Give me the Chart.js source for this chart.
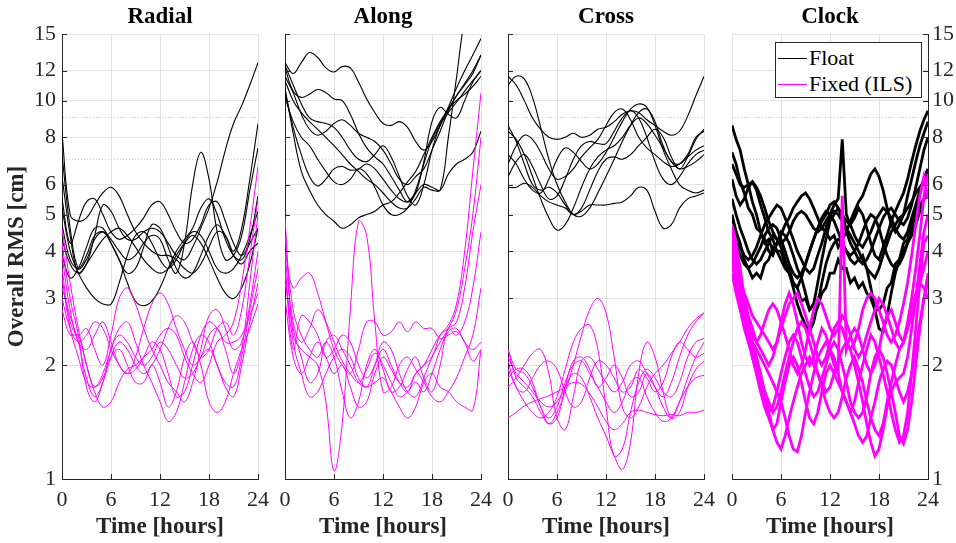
<!DOCTYPE html>
<html>
<head>
<meta charset="utf-8">
<script src="https://cdn.jsdelivr.net/npm/chart.js@4.4.1/dist/chart.umd.min.js"></script>
<style>
  html, body { margin: 0; padding: 0; background: #fff; }
  #wrap { position: relative; width: 956px; height: 543px; overflow: hidden; font-family: 'Liberation Serif', 'Times New Roman', serif; color: #262626; }
  canvas { position: absolute; top: 0; }
  .ptitle { position: absolute; top: 3px; width: 196px; text-align: center; font-weight: bold; font-size: 23px; line-height: 26px; color: #000; }
  #legend { position: absolute; left: 775px; top: 42px; width: 145px; height: 54px; border: 1px solid #262626; background: #fff; z-index: 5; }
  .lg-row { position: absolute; left: 2px; height: 26px; line-height: 26px; font-size: 22px; display: flex; align-items: center; color: #000; }
  .lg-line { display: inline-block; width: 29px; height: 1px; margin-right: 2px; }
</style>
</head>
<body>
<div id="wrap">
  <canvas id="c0" width="308" height="543" style="left:0px"></canvas>
  <canvas id="c1" width="296" height="543" style="left:235px"></canvas>
  <canvas id="c2" width="296" height="543" style="left:458px"></canvas>
  <canvas id="c3" width="274" height="543" style="left:682px"></canvas>
  <div class="ptitle" style="left:62px">Radial</div>
  <div class="ptitle" style="left:285px">Along</div>
  <div class="ptitle" style="left:508px">Cross</div>
  <div class="ptitle" style="left:732px">Clock</div>
  <div id="legend">
    <div class="lg-row" style="top:2px"><span class="lg-line" style="background:#000"></span><span>Float</span></div>
    <div class="lg-row" style="top:28px"><span class="lg-line" style="background:#ff00ff"></span><span>Fixed (ILS)</span></div>
  </div>
</div>
<script>
// --- axis values ---
const hours = [0,1,2,3,4,5,6,7,8,9,10,11,12,13,14,15,16,17,18,19,20,21,22,23,24];
const halfHours = [0,0.5,1,1.5,2,2.5,3,3.5,4,4.5,5,5.5,6,6.5,7,7.5,8,8.5,9,9.5,10,10.5,11,11.5,12,
  12.5,13,13.5,14,14.5,15,15.5,16,16.5,17,17.5,18,18.5,19,19.5,20,20.5,21,21.5,22,22.5,23,23.5,24];
const xTicks = [0, 6, 12, 18, 24];
const yLabels = [1, 2, 3, 4, 5, 6, 8, 10, 12, 15];
const yMinor = [7, 9];
const yGrid = [1, 2, 3, 4, 5, 6, 7, 8, 9, 10, 12, 15];

// --- Radial ---
const radialFloat = [
  [8.2,5.0,4.8,4.9,5.3, 5.7,5.9,5.6,5.0,4.5, 4.2,4.0,3.9,3.9,3.8, 3.6,3.5,3.7,4.1,4.5, 4.4,4.0,4.6,6.2,8.7],
  [7.2,4.6,3.6,3.8,4.3, 4.5,4.3,4.0,3.8,3.9, 4.2,4.4,4.3,3.8,3.5, 4.2,6.0,7.3,6.2,4.5, 3.8,3.9,4.4,5.8,7.5],
  [6.3,4.4,3.5,3.7,4.4, 5.3,5.1,4.6,4.3,4.3, 4.5,4.6,4.5,4.2,3.9, 3.8,4.1,4.6,5.2,6.1, 7.4,8.7,9.7,11.0,12.6],
  [5.5,4.2,4.8,5.4,5.5, 5.0,4.5,4.3,4.4,4.6, 4.9,5.3,5.4,5.0,4.5, 4.2,4.3,4.7,5.3,5.4, 4.8,4.2,3.9,4.3,5.6],
  [5.2,4.0,3.5,3.2,3.0, 2.9,2.9,3.3,3.9,4.4, 4.5,4.2,3.8,3.6,3.8, 4.2,4.5,4.4,4.0,3.6, 3.5,3.6,3.9,4.4,5.1],
  [4.7,3.8,3.6,3.9,4.4, 4.5,4.2,3.8,3.3,2.95, 2.87,2.95,3.2,3.6,4.0, 4.3,4.6,5.2,5.5,5.0, 4.3,3.9,3.8,4.2,4.6],
  [4.3,3.7,3.5,3.7,4.0, 4.3,4.5,4.6,4.4,4.1, 3.8,3.6,3.5,3.6,3.9, 4.2,4.4,4.2,3.8,3.4, 3.1,3.0,3.2,3.7,4.6],
  [3.9,3.4,3.6,4.1,4.6, 4.6,4.2,3.8,3.5,3.6, 4.1,4.7,4.6,4.1,3.6, 3.4,3.5,3.9,4.4,4.7, 4.4,3.9,3.7,4.0,4.2]
];
const radialFixed = [
  [4.6,3.3,2.5,2.0,1.7, 1.55,1.6,1.8,1.95,2.0, 2.1,2.2,2.4,2.5,2.4, 2.1,1.9,1.8,2.0,2.3, 2.4,2.6,3.3,4.6,6.7],
  [4.2,3.0,2.4,1.75,1.6, 1.8,2.1,2.3,2.2,2.0, 1.9,2.0,2.2,2.5,2.7, 2.6,2.3,2.1,2.2,2.5, 2.6,2.4,2.8,3.9,5.5],
  [3.9,2.8,2.3,2.2,2.4, 2.6,2.3,2.0,1.9,2.1, 2.5,2.9,3.1,2.9,2.5, 2.2,2.0,2.1,2.4,2.5, 2.2,1.9,2.2,3.3,5.0],
  [3.6,2.6,2.4,2.5,2.2, 2.0,2.4,3.0,3.2,2.9, 2.5,2.2,2.0,1.8,1.7, 1.6,1.8,2.2,2.7,2.8, 2.5,2.2,2.3,2.9,4.0],
  [3.4,2.5,2.1,1.8,1.75, 1.9,2.2,2.5,2.6,2.3, 2.0,1.8,1.6,1.42,1.5, 1.8,2.2,2.4,2.3,2.0, 1.8,1.75,2.1,2.8,3.6],
  [3.0,2.5,2.3,2.4,2.6, 2.5,2.2,2.0,1.9,1.95, 2.1,2.3,2.2,1.9,1.65, 1.7,2.0,2.4,2.6,2.5, 2.3,2.3,2.4,2.7,3.1],
  [2.8,2.4,2.4,2.0,1.75, 1.85,2.1,2.2,2.0,1.8, 1.8,2.0,1.8,1.55,1.7, 2.1,2.3,2.0,1.6,1.5, 1.6,1.9,2.2,2.5,2.9],
  [3.2,2.7,2.3,1.85,1.65, 1.8,2.2,2.4,2.3,2.1, 2.0,2.1,2.3,2.2,2.0, 1.85,1.9,2.1,2.2,2.0, 1.75,1.65,2.0,2.6,3.3]
];

// --- Along ---
const alongFloat = [
  [12.6,11.8,12.6,13.4,13.0, 12.2,11.9,12.3,12.2,11.2, 10.1,9.3,8.7,8.6,8.8, 8.5,7.8,7.4,7.8,8.6, 9.6,10.8,12.0,13.2,14.6],
  [12.2,10.6,10.2,10.4,10.7, 10.5,10.1,10.0,9.2,8.2, 7.5,7.1,6.8,6.3,5.8, 5.4,5.7,6.9,8.8,9.6, 9.2,9.0,10.0,11.2,12.0],
  [11.3,10.0,9.3,8.8,8.4, 8.0,7.6,7.2,6.8,6.5, 6.2,6.0,5.7,5.4,5.2, 5.2,5.5,5.9,5.8,5.8, 8.0,11.5,16.5,20,24],
  [10.8,8.2,6.5,5.8,5.3, 5.0,4.8,4.6,4.7,4.9, 5.0,5.1,5.3,5.4,5.7, 6.1,6.5,7.2,8.0,8.8, 9.5,10.3,11.0,11.8,13.2],
  [10.6,8.5,7.2,6.3,5.95, 6.2,6.6,6.7,6.55,6.6, 6.8,6.6,6.2,5.8,5.5, 5.4,5.7,6.0,5.9,5.8, 6.4,6.8,7.0,7.3,8.3],
  [12.4,11.0,9.8,9.0,8.8, 8.7,8.5,8.0,7.4,7.0, 6.9,7.2,7.6,7.1,6.3, 5.6,5.3,6.0,7.4,8.6, 9.3,9.9,10.6,11.3,12.0],
  [11.6,10.5,9.2,8.4,8.1, 8.3,8.7,8.9,8.6,8.2, 8.0,7.8,7.4,6.8,6.2, 6.0,6.3,6.6,7.4,8.3, 9.4,10.3,11.1,12.0,13.2],
  [10.2,8.8,8.0,7.6,7.0, 6.5,6.1,6.0,6.2,6.6, 6.4,5.9,5.3,5.0,5.0, 5.2,5.8,6.8,7.9,8.7, 9.5,10.0,10.4,10.9,11.6]
];
const alongFixed = [
  [4.9,2.4,2.2,2.1,2.0, 1.6,1.05,1.4,2.8,4.8, 4.4,2.6,1.7,1.75,2.0, 2.1,1.95,1.8,1.65,1.6, 1.7,1.85,2.1,2.4,3.2],
  [4.0,3.2,3.4,3.5,3.1, 2.6,2.2,2.0,1.9,2.2, 2.6,2.6,2.4,2.45,2.6, 2.45,2.6,2.5,2.5,2.35, 2.4,2.45,2.3,2.05,2.2],
  [3.7,2.2,2.7,2.6,2.4, 2.1,2.2,2.4,2.3,2.0, 1.85,2.0,2.2,2.0,1.8, 1.7,1.9,2.0,2.2,2.4, 2.5,2.6,3.2,4.5,6.0],
  [3.3,2.5,2.1,1.8,1.9, 2.3,2.4,2.2,2.0,1.8, 1.75,1.8,1.85,1.7,1.55, 1.45,1.55,1.8,1.9,1.75, 1.7,1.6,1.55,1.52,2.2],
  [3.5,2.3,1.9,1.65,1.7, 1.9,2.1,2.2,2.1,1.85, 1.75,2.0,2.3,2.2,1.9, 1.7,1.65,1.85,2.1,2.3, 2.5,2.8,3.6,5.0,8.0],
  [3.0,2.1,1.9,2.1,2.3, 2.1,1.9,2.0,1.75,1.55, 1.6,1.9,2.1,1.95,1.8, 1.75,1.9,2.0,2.1,2.4, 2.55,2.9,4.0,6.5,10.5],
  [4.4,2.8,2.4,2.2,2.1, 2.3,2.1,1.7,1.45,1.6, 2.0,2.2,1.95,1.7,1.75, 1.95,2.1,1.85,1.7,2.0, 2.5,2.4,2.6,3.2,4.5],
  [3.9,2.6,2.3,2.5,2.8, 2.6,2.3,2.05,1.9,1.8, 1.95,2.15,2.0,1.8,1.65, 1.7,1.8,1.7,1.9,2.2, 2.45,2.5,2.3,2.2,2.3]
];

// --- Cross ---
const crossFloat = [
  [11.6,11.0,10.0,9.0,8.4, 8.0,7.9,8.0,8.2,8.0, 8.1,8.4,8.5,8.8,9.2, 9.4,9.3,8.9,8.6,8.3, 8.1,8.3,9.1,10.3,11.6],
  [11.0,11.6,11.4,10.2,8.5, 7.0,6.0,5.4,5.0,4.95, 5.2,5.7,6.3,7.0,7.8, 8.6,9.3,9.5,8.8,7.6, 6.9,6.8,7.1,7.4,7.6],
  [8.3,7.9,7.2,6.3,5.5, 4.9,4.55,4.7,5.2,5.9, 6.6,7.1,7.4,7.6,8.0, 8.6,9.0,8.7,8.1,7.5, 6.9,6.6,6.7,6.9,7.2],
  [5.9,5.9,6.05,5.9,5.6, 5.4,5.3,5.2,5.0,5.1, 5.3,5.3,5.3,5.35,5.4, 5.6,5.9,5.8,5.1,4.6, 4.7,5.2,5.5,5.6,5.7],
  [6.8,7.6,8.1,7.9,7.3, 6.6,6.2,6.3,6.6,7.1, 7.5,7.9,8.6,9.3,9.5, 8.9,8.0,7.5,7.2,6.9, 6.7,6.8,7.2,8.0,8.3],
  [6.3,6.9,7.2,6.7,6.0, 5.5,5.6,6.2,7.0,7.6, 7.8,7.7,7.7,8.3,9.0, 9.4,9.0,8.0,6.9,6.2, 6.0,6.3,6.8,7.2,7.4],
  [7.2,6.8,6.2,5.8,5.7, 6.2,7.0,7.5,7.3,6.9, 6.6,6.8,7.3,8.0,8.8, 9.5,9.8,9.6,8.6,7.4, 6.6,6.0,5.8,5.7,5.8],
  [8.6,7.8,6.8,6.0,5.8, 5.9,5.7,5.3,5.0,5.2, 5.8,6.5,7.0,7.1,7.0, 7.2,7.6,8.0,8.4,8.0, 7.1,6.6,7.1,7.9,8.4]
];
const crossFixed = [
  [2.2,1.85,1.75,1.65,1.5, 1.4,1.5,1.7,2.0,2.4, 2.8,3.0,2.75,2.1,1.55, 1.45,1.55,1.75,1.9,2.0, 2.15,2.3,2.5,2.65,2.75],
  [1.45,1.5,1.56,1.6,1.63, 1.66,1.7,1.75,1.8,1.78, 1.68,1.55,1.42,1.35,1.4, 1.5,1.52,1.5,1.48,1.47, 1.48,1.47,1.5,1.5,1.52],
  [1.95,1.75,1.6,1.5,1.45, 1.5,1.65,1.95,2.3,2.5, 2.55,2.2,1.55,1.15,1.2, 1.5,1.8,1.95,1.85,1.7, 1.65,1.8,2.1,2.3,2.35],
  [2.1,1.9,1.8,1.7,1.6, 1.55,1.6,1.75,1.9,1.85, 1.65,1.45,1.3,1.15,1.06, 1.25,1.9,2.3,2.1,1.7, 1.45,1.5,1.75,1.95,2.05],
  [1.75,1.85,2.0,2.15,2.2, 1.9,1.45,1.35,1.65,2.05, 2.1,1.95,1.8,1.7,1.8, 2.0,2.05,1.9,1.75,1.65, 1.8,2.1,2.4,2.6,2.75],
  [2.2,1.95,1.9,1.75,1.55, 1.4,1.45,1.75,2.05,2.1, 1.95,1.75,1.85,2.0,1.85, 1.65,1.7,1.9,1.75,1.55, 1.45,1.6,1.85,2.1,2.3],
  [1.85,1.95,1.95,1.8,1.55, 1.45,1.55,1.8,2.0,2.05, 1.9,1.75,1.6,1.5,1.6, 1.8,1.85,1.65,1.5,1.42, 1.45,1.6,1.75,1.85,1.88],
  [2.05,1.75,1.7,1.85,2.0, 2.05,1.95,1.7,1.55,1.6, 1.85,2.05,2.0,1.85,1.7, 1.75,1.95,1.85,1.7,1.8, 2.1,2.3,2.2,2.1,2.15]
];

// --- Clock (half-hourly) ---
const clockFloat = [
  [8.6,7.9,7.4,6.6,6.0, 5.4,5.0,4.5,4.3,4.0, 3.9,4.2,4.5,4.4,4.2, 3.9,3.6,3.4,3.1,2.8, 2.9,3.3,3.8,4.3,4.8, 5.0,5.2,5.0,4.8,4.7, 4.9,5.2,5.0,4.6,4.2, 3.9,3.8,4.1,4.4,4.8, 5.1,5.4,5.7,6.2,6.9, 7.6,8.3,8.9,9.4],
  [7.3,6.8,6.1,5.7,5.2, 5.0,4.6,4.5,4.2,4.3, 4.0,4.2,4.4,4.7,4.9, 5.2,5.4,5.6,5.7,5.5, 5.2,4.9,4.6,4.5,4.3, 4.4,4.1,4.3,4.5,4.8, 5.1,5.4,5.6,6.0,6.4, 6.6,6.3,5.8,5.2,4.7, 4.5,4.7,5.0,5.6,6.2, 6.9,7.6,8.2,8.8],
  [6.2,5.6,5.3,5.5,5.9, 6.1,5.8,5.3,4.9,4.5, 4.3,4.0,3.8,3.6,3.5, 3.3,3.2,3.4,3.7,4.0, 4.3,4.6,4.8,5.0,5.3, 5.4,5.2,4.9,4.6,4.4, 4.2,4.0,3.8,3.6,3.5, 3.4,3.6,3.9,4.2,4.5, 4.7,4.9,5.0,5.2,5.4, 5.7,5.9,6.1,6.3],
  [5.5,5.0,4.6,4.3,4.0, 3.8,3.7,3.8,4.0,4.2, 4.4,4.3,4.1,3.8,3.5, 3.2,2.9,2.7,2.55,2.45, 2.6,2.9,3.3,3.7,4.0, 4.2,4.3,4.2,4.0,3.8, 3.7,3.8,3.9,3.6,3.2, 2.8,2.5,2.45,2.7,3.1, 3.5,3.8,4.0,4.2,4.4, 4.7,5.1,5.5,5.8],
  [4.9,4.5,4.1,3.9,3.8, 3.9,4.1,4.4,4.7,4.9, 5.1,5.3,5.2,4.9,4.6, 4.3,4.0,3.8,3.6,3.5, 3.6,3.9,4.2,4.6,5.0, 5.3,5.5,7.9,5.0,4.7, 4.4,4.2,4.1,4.3,4.5, 4.8,5.0,5.2,5.1,4.9, 4.6,4.4,4.3,4.5,4.9, 5.3,5.8,6.2,6.6],
  [4.5,4.2,3.9,3.7,3.6, 3.7,3.9,4.1,4.4,4.6, 4.7,4.6,4.3,4.0,3.7, 3.5,3.4,3.5,3.7,4.0, 4.3,4.6,4.9,5.1,5.0, 4.8,4.5,4.2,4.0,3.9, 4.0,4.2,4.5,4.8,5.0, 4.9,4.6,4.2,3.9,3.7, 3.6,3.7,3.9,4.2,4.6, 5.0,5.3,5.5,5.6],
  [6.8,6.4,6.0,5.9,6.0, 6.1,5.9,5.6,5.2,4.8, 4.5,4.3,4.2,4.3,4.5, 4.8,5.0,5.1,5.0,4.8, 4.6,4.5,4.6,4.8,5.0, 5.1,5.0,4.8,4.5,4.2, 4.0,3.8,3.7,3.8,4.0, 4.3,4.6,4.9,5.1,5.2, 5.0,4.8,4.7,4.9,5.3, 5.9,6.6,7.4,8.0],
  [5.0,4.5,4.2,3.8,3.6, 3.4,3.5,3.4,3.7,3.8, 4.1,4.0,4.0,3.7,3.6, 3.3,3.2,2.95,3.0,2.8, 2.9,2.85,3.1,3.2,3.5, 3.5,3.8,3.6,3.6,3.3, 3.4,3.2,3.3,3.1,3.0, 2.8,2.8,2.9,3.2,3.3, 3.7,3.8,4.2,4.3,4.8, 5.1,5.7,6.2,6.6]
];
const clockFixed = [
  [4.7,4.2,3.6,3.0,2.6, 2.3,2.1,1.9,1.7,1.5, 1.35,1.25,1.2,1.3,1.45, 1.6,1.75,1.9,2.0,2.1, 2.0,1.9,1.8,1.7,1.75, 1.9,2.05,2.2,2.3,2.2, 2.0,1.8,1.6,1.4,1.25, 1.15,1.2,1.35,1.55,1.7, 1.8,1.85,1.9,2.1,2.5, 3.0,3.7,4.5,5.0],
  [4.3,3.8,3.3,2.8,2.5, 2.3,2.2,2.1,2.0,1.9, 1.8,1.7,1.6,1.45,1.3, 1.2,1.18,1.3,1.5,1.7, 1.9,2.1,2.2,2.3,2.2, 2.1,1.9,1.7,1.6,1.5, 1.6,1.8,2.0,2.2,2.4, 2.3,2.1,1.9,1.7,1.5, 1.35,1.25,1.3,1.5,1.9, 2.5,3.3,4.2,4.4],
  [4.0,3.7,3.4,3.1,2.9, 2.7,2.6,2.5,2.4,2.3, 2.2,2.3,2.5,2.7,2.9, 3.0,3.1,2.9,2.7,2.5, 2.3,2.1,2.0,2.1,2.3, 2.5,2.6,2.5,2.3,2.2, 2.3,2.5,2.8,3.0,3.1, 3.0,2.8,2.6,2.4,2.3, 2.4,2.6,2.9,3.3,3.9, 4.7,5.6,6.3,5.5],
  [3.7,3.3,2.9,2.6,2.4, 2.2,2.0,1.85,1.7,1.6, 1.5,1.55,1.7,1.9,2.1, 2.3,2.5,2.6,2.5,2.3, 2.1,1.9,1.75,1.6,1.5, 1.45,1.5,1.65,1.85,2.0, 2.1,1.95,1.8,1.6,1.45, 1.35,1.3,1.4,1.6,1.8, 2.0,2.2,2.3,2.5,2.7, 3.0,3.3,3.6,4.0],
  [3.5,3.1,2.8,2.5,2.3, 2.1,1.9,1.75,1.6,1.5, 1.55,1.7,1.9,2.1,2.3, 2.4,2.3,2.1,1.9,1.75, 1.65,1.7,1.85,2.0,2.2, 2.3,2.2,2.0,1.8,1.6, 1.5,1.45,1.5,1.65,1.9, 2.1,2.2,2.1,1.9,1.7, 1.5,1.3,1.24,1.35,1.6, 2.0,2.5,3.0,3.5],
  [4.2,3.6,3.0,2.7,2.5, 2.4,2.3,2.2,2.1,2.0, 2.1,2.3,2.6,2.9,3.1, 2.9,2.6,2.3,2.1,2.0, 2.1,2.3,2.5,2.4,2.2, 2.0,1.9,5.6,2.2,2.4, 2.5,2.4,2.2,2.0,1.9, 2.0,2.2,2.5,2.7,2.8, 2.6,2.4,2.3,2.5,2.8, 3.1,3.3,3.2,3.0],
  [3.9,3.4,3.0,2.7,2.4, 2.1,1.9,1.7,1.55,1.45, 1.35,1.4,1.6,1.8,2.0, 2.1,2.0,1.8,1.6,1.45, 1.4,1.5,1.7,1.9,2.0, 1.9,1.8,1.7,1.6,1.5, 1.4,1.3,1.25,1.3,1.45, 1.6,1.8,1.95,2.05,2.0, 1.85,1.7,1.6,1.7,1.9, 2.2,2.6,3.0,3.3],
  [4.5,4.0,3.4,3.0,2.7, 2.5,2.3,2.4,2.6,2.8, 2.9,2.8,2.6,2.4,2.2, 2.0,1.9,2.0,2.2,2.5, 2.8,3.0,2.9,2.7,2.5, 2.4,2.5,2.7,2.6,2.4, 2.2,2.1,2.2,2.4,2.6, 2.8,3.0,2.9,2.7,2.5, 2.3,2.2,2.3,2.6,3.0, 3.6,4.4,5.6,6.4]
];

const FLOAT_COLOR = '#000000';
const FIXED_COLOR = '#ff00ff';
const AXIS_COLOR = '#262626';

Chart.defaults.font.family = "'Liberation Serif', 'Times New Roman', serif";
Chart.defaults.color = AXIS_COLOR;

// MATLAB style: short tick marks pointing into the axes
const inwardTicks = {
  id: 'inwardTicks',
  afterDraw(chart) {
    const { ctx, chartArea: a, scales } = chart;
    const right = scales.y.position === 'right';
    const ax = right ? a.right : a.left;
    ctx.save();
    ctx.strokeStyle = AXIS_COLOR;
    ctx.lineWidth = 1;
    ctx.beginPath();
    scales.x.ticks.forEach(t => {
      const px = Math.round(scales.x.getPixelForValue(t.value)) + 0.5;
      ctx.moveTo(px, a.bottom);
      ctx.lineTo(px, a.bottom - 5);
    });
    scales.y.ticks.forEach(t => {
      if (!yLabels.includes(t.value)) return;
      const py = Math.round(scales.y.getPixelForValue(t.value)) + 0.5;
      ctx.moveTo(ax, py);
      ctx.lineTo(right ? ax - 5 : ax + 5, py);
    });
    ctx.stroke();
    ctx.restore();
  }
};

function lineSets(rows, xs, color, width, tension, order) {
  return rows.map(r => ({
    data: r.map((v, i) => ({ x: xs[i], y: v })),
    borderColor: color,
    borderWidth: width,
    pointRadius: 0,
    fill: false,
    tension: tension,
    order: order
  }));
}

const isMinor = c => !!(c.tick && yMinor.includes(c.tick.value));

function makePanel(canvasId, cfg) {
  const datasets = [
    ...lineSets(cfg.fixed, cfg.xs, FIXED_COLOR, cfg.fixedWidth, cfg.tension, 0),
    ...lineSets(cfg.float, cfg.xs, FLOAT_COLOR, cfg.floatWidth, cfg.tension, 1)
  ];
  return new Chart(document.getElementById(canvasId), {
    type: 'line',
    data: { datasets },
    options: {
      responsive: false,
      animation: false,
      devicePixelRatio: 1,
      layout: { padding: { top: 34, bottom: 0, left: cfg.padL, right: cfg.padR } },
      plugins: { legend: { display: false }, tooltip: { enabled: false } },
      scales: {
        x: {
          type: 'linear', min: 0, max: 24,
          afterBuildTicks: s => { s.ticks = xTicks.map(v => ({ value: v })); },
          afterFit: s => { s.height = 64; },
          ticks: { font: { size: 22 }, padding: 8, maxRotation: 0, autoSkip: false },
          grid: { color: '#e3e3e3', drawTicks: false },
          border: { color: AXIS_COLOR },
          title: { display: true, text: 'Time [hours]', font: { size: 23, weight: 'bold' }, padding: { top: 0, bottom: 2 } }
        },
        y: {
          type: 'logarithmic', position: cfg.yPos, min: 1, max: 15,
          afterBuildTicks: s => { s.ticks = yGrid.map(v => ({ value: v })); },
          afterFit: s => { s.width = cfg.yWidth; },
          ticks: {
            display: cfg.showY, font: { size: 22 }, autoSkip: false,
            padding: cfg.yPos === 'right' ? 4 : 6,
            callback: v => yLabels.includes(v) ? String(v) : ''
          },
          grid: { drawTicks: false, color: c => isMinor(c) ? '#cdcdcd' : '#e3e3e3' },
          border: { color: AXIS_COLOR, dash: c => isMinor(c) ? [1, 2] : [] },
          title: { display: !!cfg.yTitle, text: cfg.yTitle || '', font: { size: 23, weight: 'bold' }, padding: { top: 3 } }
        }
      }
    },
    plugins: [inwardTicks]
  });
}

makePanel('c0', { float: radialFloat, fixed: radialFixed, xs: hours, tension: 0.4, floatWidth: 1.1, fixedWidth: 1,
  yPos: 'left', showY: true, yWidth: 62, padL: 0, padR: 50, yTitle: 'Overall RMS [cm]' });
makePanel('c1', { float: alongFloat, fixed: alongFixed, xs: hours, tension: 0.4, floatWidth: 1.1, fixedWidth: 1,
  yPos: 'left', showY: false, yWidth: 50, padL: 0, padR: 50 });
makePanel('c2', { float: crossFloat, fixed: crossFixed, xs: hours, tension: 0.4, floatWidth: 1.1, fixedWidth: 1,
  yPos: 'left', showY: false, yWidth: 50, padL: 0, padR: 50 });
makePanel('c3', { float: clockFloat, fixed: clockFixed, xs: halfHours, tension: 0, floatWidth: 2.8, fixedWidth: 2.8,
  yPos: 'right', showY: true, yWidth: 28, padL: 50, padR: 0 });
</script>
</body>
</html>
